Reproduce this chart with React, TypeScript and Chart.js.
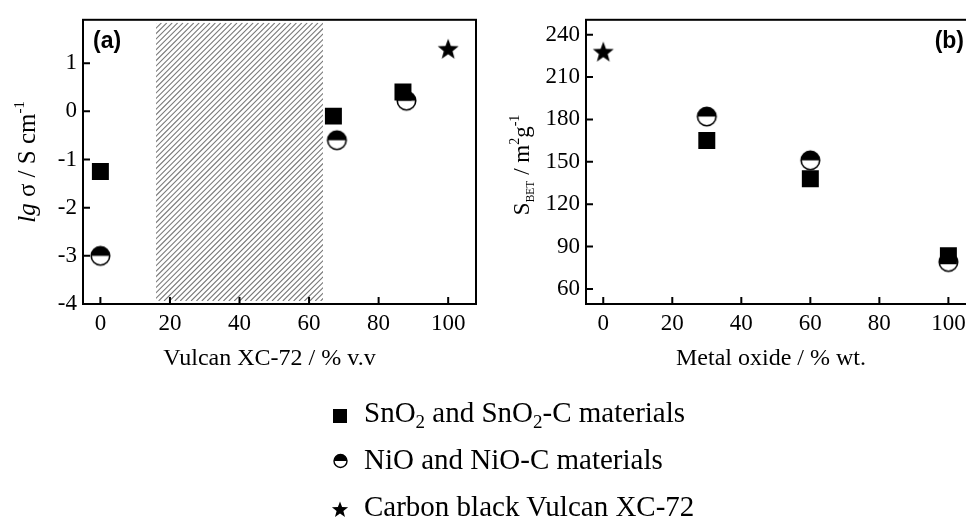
import React, { useEffect, useRef } from "react";
import { Chart, registerables } from "chart.js";

Chart.register(...registerables);

const SERIF = "'Liberation Serif', 'Times New Roman', serif";
const SANS = "'Liberation Sans', Arial, sans-serif";

// Tick values
const percentTicks = [0, 20, 40, 60, 80, 100];
const lgSigmaTicks = [-4, -3, -2, -1, 0, 1];
const surfaceTicks = [60, 90, 120, 150, 180, 210, 240];

// Panel (a): conductivity vs. carbon content
const vulcanSnO2 = [0, 67, 87];
const lgSigmaSnO2 = [-1.25, -0.1, 0.4];
const vulcanNiO = [0, 68, 88];
const lgSigmaNiO = [-3.0, -0.6, 0.22];
const vulcanCarbon = [100];
const lgSigmaCarbon = [1.3];
// carbon fraction range without samples (hatched band)
const unsampledRange = [16, 64];

// Panel (b): BET surface area vs. metal oxide content
const oxideSnO2 = [30, 60, 100];
const betSnO2 = [165, 138, 83.5];
const oxideNiO = [30, 60, 100];
const betNiO = [182, 151, 79];
const oxideCarbon = [0];
const betCarbon = [228];

const toPoints = (xs: number[], ys: number[]) => xs.map((x, i) => ({ x, y: ys[i] }));

function makeHalfCircle(d: number): HTMLCanvasElement {
  const s = Math.ceil(d + 4);
  const c = document.createElement("canvas");
  c.width = s;
  c.height = s;
  const ctx = c.getContext("2d")!;
  const cx = s / 2, cy = s / 2, r = d / 2;
  ctx.fillStyle = "#fff";
  ctx.beginPath();
  ctx.arc(cx, cy, r, 0, Math.PI * 2);
  ctx.fill();
  ctx.fillStyle = "#000";
  ctx.beginPath();
  ctx.arc(cx, cy, r, Math.PI, Math.PI * 2);
  ctx.closePath();
  ctx.fill();
  ctx.lineWidth = 1.6;
  ctx.strokeStyle = "#000";
  ctx.beginPath();
  ctx.arc(cx, cy, r, 0, Math.PI * 2);
  ctx.stroke();
  return c;
}

function starPath(cx: number, cy: number, outer: number): string {
  const inner = outer * 0.42;
  const pts: string[] = [];
  for (let i = 0; i < 10; i++) {
    const a = -Math.PI / 2 + (i * Math.PI) / 5;
    const r = i % 2 ? inner : outer;
    pts.push(`${(cx + r * Math.cos(a)).toFixed(2)},${(cy + r * Math.sin(a)).toFixed(2)}`);
  }
  return pts.join(" ");
}

function makeStar(outer: number): HTMLCanvasElement {
  const s = Math.ceil(outer * 2 + 2);
  const c = document.createElement("canvas");
  c.width = s;
  c.height = s;
  const ctx = c.getContext("2d")!;
  const inner = outer * 0.42;
  ctx.fillStyle = "#000";
  ctx.beginPath();
  for (let i = 0; i < 10; i++) {
    const a = -Math.PI / 2 + (i * Math.PI) / 5;
    const r = i % 2 ? inner : outer;
    const x = s / 2 + r * Math.cos(a);
    const y = s / 2 + 1 + r * Math.sin(a);
    if (i === 0) ctx.moveTo(x, y);
    else ctx.lineTo(x, y);
  }
  ctx.closePath();
  ctx.fill();
  return c;
}

type Run = { text: string; size: number; italic?: boolean; dy?: number };

function drawRotatedRuns(ctx: CanvasRenderingContext2D, runs: Run[], baselineX: number, centerY: number) {
  ctx.save();
  ctx.translate(baselineX, centerY);
  ctx.rotate(-Math.PI / 2);
  ctx.fillStyle = "#000";
  ctx.textAlign = "left";
  ctx.textBaseline = "alphabetic";
  let total = 0;
  for (const r of runs) {
    ctx.font = `${r.italic ? "italic " : ""}${r.size}px ${SERIF}`;
    total += ctx.measureText(r.text).width;
  }
  let x = -total / 2;
  for (const r of runs) {
    ctx.font = `${r.italic ? "italic " : ""}${r.size}px ${SERIF}`;
    ctx.fillText(r.text, x, r.dy ?? 0);
    x += ctx.measureText(r.text).width;
  }
  ctx.restore();
}

function drawXTitle(chart: any, text: string) {
  const { ctx, chartArea: a } = chart;
  ctx.save();
  ctx.fillStyle = "#000";
  ctx.font = `24px ${SERIF}`;
  ctx.textAlign = "center";
  ctx.textBaseline = "alphabetic";
  ctx.fillText(text, (a.left + a.right) / 2 - 10, a.bottom + 61);
  ctx.restore();
}

// Frame around the plot area plus inward-pointing major ticks
const framePlugin = {
  id: "frameTicks",
  afterDatasetsDraw(chart: any) {
    const { ctx, chartArea: a, scales } = chart;
    ctx.save();
    ctx.strokeStyle = "#000";
    ctx.lineWidth = 2;
    ctx.strokeRect(a.left, a.top, a.right - a.left, a.bottom - a.top);
    const len = 7;
    ctx.beginPath();
    for (const t of scales.x.ticks) {
      const px = scales.x.getPixelForValue(t.value);
      ctx.moveTo(px, a.bottom);
      ctx.lineTo(px, a.bottom - len);
    }
    for (const t of scales.y.ticks) {
      const py = scales.y.getPixelForValue(t.value);
      ctx.moveTo(a.left, py);
      ctx.lineTo(a.left + len, py);
    }
    ctx.stroke();
    ctx.restore();
  },
};

function xScale(min: number, max: number) {
  return {
    type: "linear",
    min,
    max,
    afterBuildTicks: (s: any) => {
      s.ticks = percentTicks.map((v) => ({ value: v }));
    },
    afterFit: (s: any) => {
      s.height = 76;
    },
    grid: { display: false, drawTicks: false },
    border: { display: false },
    ticks: { color: "#000", padding: 6, autoSkip: false, maxRotation: 0, font: { family: SERIF, size: 23 } },
  };
}

function yScale(ticks: number[], min: number, max: number, width: number) {
  return {
    type: "linear",
    min,
    max,
    afterBuildTicks: (s: any) => {
      s.ticks = ticks.map((v) => ({ value: v }));
    },
    afterFit: (s: any) => {
      s.width = width;
    },
    grid: { display: false, drawTicks: false },
    border: { display: false },
    ticks: { color: "#000", padding: 6, autoSkip: false, font: { family: SERIF, size: 23 } },
  };
}

function markerDatasets(sq: { x: number; y: number }[], half: { x: number; y: number }[], star: { x: number; y: number }[]) {
  const halfImg = makeHalfCircle(18.5);
  const starImg = makeStar(11);
  return [
    {
      label: "SnO2 and SnO2-C materials",
      data: sq,
      pointStyle: "rect",
      pointRadius: 12,
      pointHoverRadius: 12,
      backgroundColor: "#000",
      borderWidth: 0,
    },
    {
      label: "NiO and NiO-C materials",
      data: half,
      pointStyle: halfImg,
      pointRadius: 9,
      backgroundColor: "#000",
      borderWidth: 0,
    },
    {
      label: "Carbon black Vulcan XC-72",
      data: star,
      pointStyle: starImg,
      pointRadius: 10,
      backgroundColor: "#000",
      borderWidth: 0,
    },
  ];
}

function buildConductivity(canvas: HTMLCanvasElement) {
  const hatchPlugin = {
    id: "hatch",
    beforeDatasetsDraw(chart: any) {
      const { ctx, chartArea: a, scales } = chart;
      const x0 = scales.x.getPixelForValue(unsampledRange[0]);
      const x1 = scales.x.getPixelForValue(unsampledRange[1]);
      const top = a.top + 3;
      const bottom = a.bottom - 3;
      const h = bottom - top;
      ctx.save();
      ctx.beginPath();
      ctx.rect(x0, top, x1 - x0, h);
      ctx.clip();
      ctx.strokeStyle = "#7a7a7a";
      ctx.lineWidth = 1.1;
      ctx.beginPath();
      for (let x = x0 - h; x < x1 + 6; x += 5.4) {
        ctx.moveTo(x, bottom);
        ctx.lineTo(x + h, top);
      }
      ctx.stroke();
      ctx.restore();
    },
  };
  const labelPlugin = {
    id: "labelsA",
    afterDraw(chart: any) {
      const { ctx, chartArea: a } = chart;
      drawRotatedRuns(
        ctx,
        [
          { text: "lg", size: 25, italic: true },
          { text: " σ / S cm", size: 25 },
          { text: "-1", size: 15, dy: -11 },
        ],
        35,
        (a.top + a.bottom) / 2
      );
      drawXTitle(chart, "Vulcan XC-72 / % v.v");
      ctx.save();
      ctx.fillStyle = "#000";
      ctx.font = `bold 23px ${SANS}`;
      ctx.textAlign = "left";
      ctx.textBaseline = "middle";
      ctx.fillText("(a)", a.left + 10, a.top + 22);
      ctx.restore();
    },
  };
  return new Chart(canvas, {
    type: "scatter",
    data: {
      datasets: markerDatasets(
        toPoints(vulcanSnO2, lgSigmaSnO2),
        toPoints(vulcanNiO, lgSigmaNiO),
        toPoints(vulcanCarbon, lgSigmaCarbon)
      ) as any,
    },
    options: {
      responsive: false,
      animation: false,
      layout: { padding: { top: 15, right: 14, left: 0, bottom: 0 } },
      plugins: { legend: { display: false }, tooltip: { enabled: false } },
      scales: {
        x: xScale(-5, 108),
        y: yScale(lgSigmaTicks, -4, 1.9, 83),
      } as any,
    },
    plugins: [hatchPlugin, framePlugin, labelPlugin],
  });
}

function buildSurface(canvas: HTMLCanvasElement) {
  const labelPlugin = {
    id: "labelsB",
    afterDraw(chart: any) {
      const { ctx, chartArea: a } = chart;
      drawRotatedRuns(
        ctx,
        [
          { text: "S", size: 23 },
          { text: "BET", size: 11.5, dy: 5 },
          { text: " / m", size: 23 },
          { text: "2", size: 14, dy: -10 },
          { text: "g", size: 23 },
          { text: "-1", size: 14, dy: -10 },
        ],
        39,
        (a.top + a.bottom) / 2 + 3
      );
      drawXTitle(chart, "Metal oxide / % wt.");
      ctx.save();
      ctx.fillStyle = "#000";
      ctx.font = `bold 23px ${SANS}`;
      ctx.textAlign = "right";
      ctx.textBaseline = "middle";
      ctx.fillText("(b)", a.right - 12, a.top + 22);
      ctx.restore();
    },
  };
  return new Chart(canvas, {
    type: "scatter",
    data: {
      datasets: markerDatasets(
        toPoints(oxideSnO2, betSnO2),
        toPoints(oxideNiO, betNiO),
        toPoints(oxideCarbon, betCarbon)
      ) as any,
    },
    options: {
      responsive: false,
      animation: false,
      layout: { padding: { top: 15, right: 14, left: 0, bottom: 0 } },
      plugins: { legend: { display: false }, tooltip: { enabled: false } },
      scales: {
        x: xScale(-5, 108),
        y: yScale(surfaceTicks, 49.3, 250.5, 96),
      } as any,
    },
    plugins: [framePlugin, labelPlugin],
  });
}

function ChartCanvas(props: {
  left: number;
  width: number;
  height: number;
  build: (c: HTMLCanvasElement) => Chart;
}) {
  const ref = useRef<HTMLCanvasElement>(null);
  useEffect(() => {
    if (!ref.current) return;
    const chart = props.build(ref.current);
    return () => chart.destroy();
  }, []);
  return (
    <canvas
      ref={ref}
      width={props.width}
      height={props.height}
      style={{ position: "absolute", left: props.left, top: 0, width: props.width, height: props.height, display: "block" }}
    />
  );
}

function Legend() {
  const textStyle = { fontFamily: SERIF, fontSize: 29, fill: "#000" } as const;
  return (
    <svg
      width={966}
      height={517}
      style={{ position: "absolute", left: 0, top: 0, pointerEvents: "none" }}
    >
      <rect x={333} y={409} width={14} height={14} fill="#000" />
      <text x={364} y={422} style={textStyle}>
        SnO<tspan fontSize={19} dy={6}>2</tspan>
        <tspan dy={-6}> and SnO</tspan>
        <tspan fontSize={19} dy={6}>2</tspan>
        <tspan dy={-6}>-C materials</tspan>
      </text>

      <circle cx={340.5} cy={461} r={6.5} fill="#fff" stroke="#000" strokeWidth={1.4} />
      <path d="M334,461 A6.5,6.5 0 0 1 347,461 Z" fill="#000" />
      <text x={364} y={469} style={textStyle}>
        NiO and NiO-C materials
      </text>

      <polygon points={starPath(340, 510, 8.5)} fill="#000" />
      <text x={364} y={516} style={textStyle}>
        Carbon black Vulcan XC-72
      </text>
    </svg>
  );
}

export default function App() {
  return (
    <div
      style={{
        position: "fixed",
        left: 0,
        top: 0,
        width: 966,
        height: 517,
        overflow: "hidden",
        background: "#fff",
      }}
    >
      <ChartCanvas left={0} width={490} height={380} build={buildConductivity} />
      <ChartCanvas left={490} width={500} height={380} build={buildSurface} />
      <Legend />
    </div>
  );
}
